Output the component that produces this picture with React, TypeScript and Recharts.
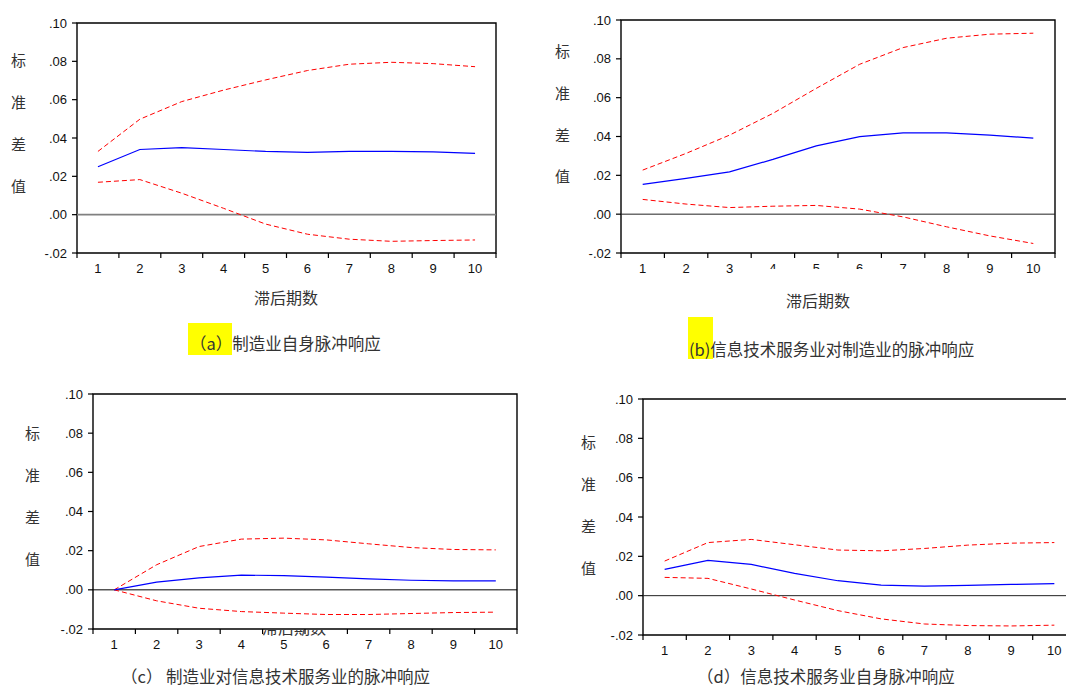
import React from "react";
import { LineChart, Line, XAxis, YAxis, ReferenceLine, ReferenceArea } from "recharts";

const PERIODS = [1, 2, 3, 4, 5, 6, 7, 8, 9, 10];
const Y_TICKS = [-0.02, 0, 0.02, 0.04, 0.06, 0.08, 0.1];
const X_EDGES = [...PERIODS.map((p) => p - 0.5), PERIODS.length + 0.5];

// (a) manufacturing -> manufacturing
const A_RESP = [0.025, 0.034, 0.035, 0.034, 0.033, 0.0325, 0.033, 0.033, 0.0328, 0.032];
const A_UP = [0.033, 0.0498, 0.059, 0.065, 0.0703, 0.0752, 0.0785, 0.0795, 0.0788, 0.0772];
const A_LO = [0.0169, 0.0183, 0.0112, 0.0033, -0.0049, -0.0102, -0.0128, -0.0139, -0.0135, -0.0132];

// (b) IT services -> manufacturing
const B_RESP = [0.0153, 0.0184, 0.0218, 0.0282, 0.0352, 0.0399, 0.0419, 0.0419, 0.0407, 0.0392];
const B_UP = [0.0227, 0.0313, 0.0407, 0.0519, 0.0648, 0.0772, 0.0858, 0.0906, 0.0927, 0.0932];
const B_LO = [0.0076, 0.0052, 0.0034, 0.0041, 0.0045, 0.0026, -0.0014, -0.0065, -0.0112, -0.0151];

// (c) manufacturing -> IT services
const C_RESP = [0, 0.0039, 0.0061, 0.0075, 0.0073, 0.0065, 0.0056, 0.0049, 0.0046, 0.0046];
const C_UP = [0, 0.0128, 0.0221, 0.0259, 0.0264, 0.0255, 0.0235, 0.0216, 0.0206, 0.0204];
const C_LO = [0, -0.0056, -0.0094, -0.0111, -0.0119, -0.0126, -0.0126, -0.0121, -0.0116, -0.0114];

// (d) IT services -> IT services
const D_RESP = [0.0134, 0.0179, 0.0159, 0.0113, 0.0076, 0.0054, 0.0049, 0.0052, 0.0057, 0.0061];
const D_UP = [0.0176, 0.027, 0.0286, 0.0259, 0.0232, 0.0228, 0.024, 0.0257, 0.0267, 0.027];
const D_LO = [0.0093, 0.0088, 0.0034, -0.0022, -0.0076, -0.0118, -0.0144, -0.0152, -0.0154, -0.015];

const Y_CHARS = ["标", "准", "差", "值"];
const X_TITLE = "滞后期数";

const CJK = "'Noto Sans CJK SC', sans-serif";
const NUM = "'Liberation Sans', Arial, sans-serif";

const fmt = (v: number) => v.toFixed(2).replace("0.", ".");

const EdgeTick = (props: any) => {
  const { x, y, payload, band } = props;
  const v = payload.value;
  return (
    <g>
      <line x1={x} y1={y} x2={x} y2={y + 5} stroke="#000" strokeWidth={1.2} />
      {v < PERIODS.length && (
        <text x={x + band / 2} y={y + 15} textAnchor="middle" dominantBaseline="central"
          fontSize={13} fontFamily={NUM} fill="#111">
          {v + 0.5}
        </text>
      )}
    </g>
  );
};

interface PanelProps {
  left: number; top: number;
  plot: [number, number, number, number];
  resp: number[]; up: number[]; lo: number[];
  zero: string; zeroW: number;
}

function Panel({ left, top, plot, resp, up, lo, zero, zeroW }: PanelProps) {
  const [pl, pt, pr, pb] = plot;
  const width = pr - left + 12;
  const height = pb - top + 30;
  const band = (pr - pl) / PERIODS.length;
  const data = PERIODS.map((p, i) => ({ p, resp: resp[i], up: up[i], lo: lo[i] }));
  return (
    <div style={{ position: "absolute", left, top }}>
      <LineChart width={width} height={height} data={data}
        margin={{ top: pt - top, right: width - (pr - left), bottom: 0, left: 0 }}>
        <XAxis dataKey="p" type="number" domain={[0.5, 10.5]} ticks={X_EDGES} interval={0}
          height={30} axisLine={false} tickLine={false} tickSize={0} tickMargin={0}
          tick={(t: any) => <EdgeTick {...t} band={band} />} />
        <YAxis type="number" domain={[-0.02, 0.1]} ticks={Y_TICKS} interval={0} width={pl - left}
          axisLine={false} tickLine={{ stroke: "#000", strokeWidth: 1.2 }} tickSize={5} tickMargin={5}
          tickFormatter={fmt} tick={{ fill: "#111", fontSize: 13, fontFamily: NUM }} />
        <ReferenceArea x1={0.5} x2={10.5} y1={-0.02} y2={0.1} fill="none" stroke="#000"
          strokeWidth={1.4} ifOverflow="visible" />
        <ReferenceLine y={0} stroke={zero} strokeWidth={zeroW} />
        <Line dataKey="up" type="linear" stroke="#ff0000" strokeWidth={1} strokeDasharray="5 3"
          dot={false} isAnimationActive={false} />
        <Line dataKey="lo" type="linear" stroke="#ff0000" strokeWidth={1} strokeDasharray="5 3"
          dot={false} isAnimationActive={false} />
        <Line dataKey="resp" type="linear" stroke="#0000ff" strokeWidth={1.2}
          dot={false} isAnimationActive={false} />
      </LineChart>
    </div>
  );
}

const YLabel = ({ x, ys }: { x: number; ys: number[] }) => (
  <>
    {Y_CHARS.map((c, i) => (
      <div key={i} style={{ position: "absolute", left: x - 8, top: ys[i] - 11, fontSize: 15,
        lineHeight: "22px", fontFamily: CJK, color: "#333" }}>{c}</div>
    ))}
  </>
);

const Text = ({ x, y, size = 16, children }: { x: number; y: number; size?: number; children: React.ReactNode }) => (
  <div style={{ position: "absolute", left: x, top: y - 8, fontSize: size, lineHeight: "16px",
    fontFamily: CJK, color: "#333", whiteSpace: "nowrap" }}>{children}</div>
);

export default function App() {
  return (
    <div style={{ position: "absolute", left: 0, top: 0, width: 1066, height: 686, overflow: "hidden",
      background: "#fff" }}>
      <Panel left={0} top={0} plot={[77, 23, 496, 253]} resp={A_RESP} up={A_UP} lo={A_LO} zero="#808080" zeroW={1.6} />
      <Panel left={540} top={0} plot={[621, 20, 1055, 253]} resp={B_RESP} up={B_UP} lo={B_LO} zero="#222" zeroW={1} />
      <Panel left={0} top={370} plot={[93, 394, 517, 629]} resp={C_RESP} up={C_UP} lo={C_LO} zero="#000" zeroW={1} />
      <Panel left={560} top={370} plot={[643, 399, 1076, 635]} resp={D_RESP} up={D_UP} lo={D_LO} zero="#222" zeroW={1} />

      <YLabel x={19} ys={[60, 102, 144, 186]} />
      <YLabel x={563} ys={[51, 93, 135, 176]} />
      <YLabel x={33} ys={[433, 475, 517, 559]} />
      <YLabel x={589} ys={[442, 484, 526, 568]} />

      <Text x={254} y={297}>{X_TITLE}</Text>
      <Text x={786} y={300}>{X_TITLE}</Text>
      {/* axis title of (c) is mostly hidden behind the plot */}
      <div style={{ position: "absolute", left: 262, top: 630, width: 70, height: 6, overflow: "hidden" }}>
        <div style={{ position: "absolute", left: 0, top: -13, fontSize: 16, lineHeight: "20px",
          fontFamily: CJK, color: "#333", whiteSpace: "nowrap" }}>{X_TITLE}</div>
      </div>
      {/* white patch that cuts some tick labels of (b) in the source */}
      <div style={{ position: "absolute", left: 762, top: 269, width: 150, height: 10, background: "#fff" }} />

      <div style={{ position: "absolute", left: 188, top: 323, width: 44, height: 32, background: "#ffff00" }} />
      <Text x={190} y={343} size={16.5}>（a）制造业自身脉冲响应</Text>
      <div style={{ position: "absolute", left: 688, top: 317, width: 25, height: 42, background: "#ffff00" }} />
      <Text x={689} y={349} size={16.5}>(b)信息技术服务业对制造业的脉冲响应</Text>
      <Text x={121} y={676} size={16.5}>（c） 制造业对信息技术服务业的脉冲响应</Text>
      <Text x={697} y={676} size={16.5}>（d）信息技术服务业自身脉冲响应</Text>
    </div>
  );
}
